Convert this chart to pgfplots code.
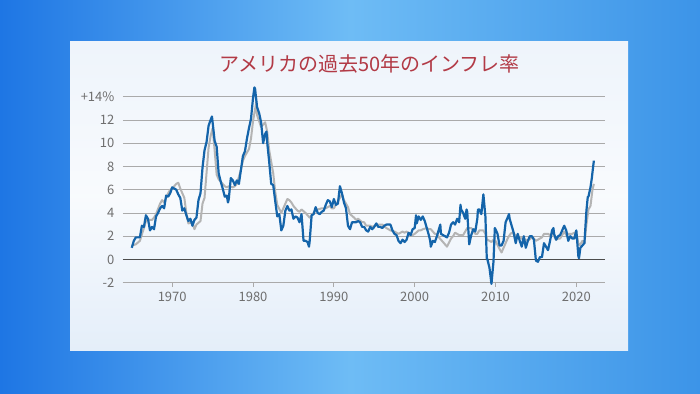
\documentclass[border=0pt]{standalone}
\usepackage{pgfplots}
\pgfplotsset{compat=1.18}
\usepackage{fontspec}
\setmainfont{Noto Sans CJK JP}
\definecolor{bgL}{RGB}{30,118,228}
\definecolor{bgM}{RGB}{110,188,245}
\definecolor{bgR}{RGB}{60,148,232}
\definecolor{panelT}{RGB}{238,244,251}
\definecolor{panelB}{RGB}{228,238,249}
\definecolor{titlered}{RGB}{178,58,70}
\definecolor{cpiblue}{RGB}{20,100,170}
\definecolor{coregray}{RGB}{180,180,180}
\definecolor{gridgray}{RGB}{170,170,170}
\definecolor{ticklab}{RGB}{110,110,110}

\pgfplotstableread{
x y
1965.0 1.0
1965.25 1.6
1965.5 1.9
1965.75 1.9
1966.0 1.9
1966.25 2.9
1966.5 2.8
1966.75 3.8
1967.0 3.5
1967.25 2.5
1967.5 2.8
1967.75 2.6
1968.0 3.7
1968.25 4.0
1968.5 4.4
1968.75 4.6
1969.0 4.4
1969.25 5.5
1969.5 5.4
1969.75 5.7
1970.0 6.2
1970.25 6.1
1970.5 6.0
1970.75 5.6
1971.0 5.3
1971.25 4.2
1971.5 4.4
1971.75 3.8
1972.0 3.3
1972.25 3.5
1972.5 2.9
1972.75 3.4
1973.0 3.6
1973.25 5.1
1973.5 5.7
1973.75 7.9
1974.0 9.4
1974.25 10.1
1974.5 11.5
1974.75 12.0
1974.92 12.3
1975.0 11.8
1975.25 10.2
1975.5 9.7
1975.75 7.4
1976.0 6.7
1976.25 6.1
1976.5 5.4
1976.75 5.5
1976.9 4.9
1977.0 5.2
1977.25 7.0
1977.5 6.8
1977.75 6.4
1978.0 6.8
1978.25 6.5
1978.5 7.7
1978.75 8.9
1979.0 9.3
1979.25 10.4
1979.5 11.3
1979.75 12.1
1980.0 13.9
1980.17 14.8
1980.25 14.7
1980.5 13.1
1980.75 12.6
1981.0 11.8
1981.25 10.0
1981.5 10.8
1981.67 11.0
1981.75 10.1
1982.0 8.4
1982.25 6.5
1982.5 6.4
1982.75 5.0
1983.0 3.7
1983.25 3.9
1983.5 2.5
1983.75 2.9
1984.0 4.2
1984.25 4.6
1984.5 4.2
1984.75 4.3
1985.0 3.5
1985.25 3.7
1985.5 3.6
1985.75 3.2
1986.0 3.9
1986.25 1.6
1986.5 1.6
1986.75 1.5
1986.92 1.1
1987.0 1.5
1987.25 3.8
1987.5 3.9
1987.75 4.5
1988.0 4.0
1988.25 3.9
1988.5 4.1
1988.75 4.2
1989.0 4.7
1989.25 5.1
1989.5 5.0
1989.75 4.5
1990.0 5.2
1990.25 4.7
1990.5 4.8
1990.75 6.3
1991.0 5.7
1991.25 4.9
1991.5 4.4
1991.75 2.9
1992.0 2.6
1992.25 3.2
1992.5 3.2
1992.75 3.2
1993.0 3.3
1993.25 3.2
1993.5 2.8
1993.75 2.8
1994.0 2.5
1994.25 2.4
1994.5 2.8
1994.75 2.6
1995.0 2.8
1995.25 3.1
1995.5 2.8
1995.75 2.8
1996.0 2.7
1996.25 2.9
1996.5 3.0
1996.75 3.0
1997.0 3.0
1997.25 2.5
1997.5 2.2
1997.75 2.1
1998.0 1.6
1998.25 1.4
1998.5 1.7
1998.75 1.5
1999.0 1.7
1999.25 2.3
1999.5 2.1
1999.75 2.6
2000.0 2.7
2000.17 3.8
2000.25 3.1
2000.5 3.7
2000.75 3.4
2001.0 3.7
2001.25 3.3
2001.5 2.7
2001.75 2.1
2001.92 1.6
2002.0 1.1
2002.25 1.6
2002.5 1.5
2002.75 2.0
2003.0 2.6
2003.17 3.0
2003.25 2.2
2003.5 2.1
2003.75 2.0
2004.0 1.9
2004.25 2.3
2004.5 3.0
2004.75 3.2
2005.0 3.0
2005.25 3.5
2005.5 3.2
2005.67 4.7
2005.75 4.3
2006.0 4.0
2006.25 3.5
2006.42 4.3
2006.5 4.1
2006.75 1.3
2007.0 2.1
2007.25 2.6
2007.5 2.4
2007.75 3.5
2007.83 4.3
2008.0 4.3
2008.25 3.9
2008.5 5.6
2008.75 3.7
2008.92 0.1
2009.0 0.0
2009.25 -0.7
2009.5 -2.1
2009.75 -0.2
2009.92 2.7
2010.0 2.6
2010.25 2.2
2010.5 1.2
2010.75 1.2
2011.0 1.6
2011.25 3.2
2011.5 3.6
2011.67 3.9
2011.75 3.5
2012.0 2.9
2012.25 2.3
2012.5 1.4
2012.75 2.2
2013.0 1.6
2013.25 1.1
2013.5 2.0
2013.75 1.0
2014.0 1.6
2014.25 2.0
2014.5 2.0
2014.75 1.7
2015.0 -0.1
2015.25 -0.2
2015.5 0.2
2015.75 0.2
2016.0 1.4
2016.25 1.1
2016.5 0.8
2016.75 1.6
2017.0 2.5
2017.17 2.7
2017.25 2.2
2017.5 1.7
2017.75 2.0
2018.0 2.1
2018.25 2.5
2018.5 2.9
2018.75 2.5
2019.0 1.6
2019.25 2.0
2019.5 1.8
2019.75 1.8
2020.0 2.5
2020.25 0.3
2020.33 0.1
2020.5 1.0
2020.75 1.2
2021.0 1.4
2021.25 4.2
2021.42 5.4
2021.5 5.4
2021.75 6.2
2021.92 7.0
2022.0 7.5
2022.17 8.5
}\cpi

\pgfplotstableread{
x y
1965.0 1.2
1965.5 1.3
1966.0 1.6
1966.5 2.7
1966.75 3.3
1967.0 3.4
1967.5 3.4
1967.75 3.6
1968.0 3.9
1968.5 4.8
1968.75 5.1
1969.0 4.9
1969.5 5.7
1969.75 6.0
1970.0 6.1
1970.5 6.5
1970.75 6.6
1971.0 6.1
1971.5 5.3
1971.75 4.0
1972.0 3.1
1972.5 3.2
1972.75 2.6
1973.0 3.0
1973.5 3.3
1973.75 4.8
1974.0 5.3
1974.5 9.6
1974.75 10.6
1975.0 11.3
1975.25 9.4
1975.5 7.3
1975.75 6.9
1976.0 6.7
1976.5 6.3
1976.75 6.2
1977.0 6.3
1977.5 6.2
1977.75 6.3
1978.0 6.5
1978.5 7.7
1978.75 8.5
1979.0 8.9
1979.5 9.5
1979.75 10.4
1980.0 11.9
1980.42 13.6
1980.5 12.4
1980.75 11.9
1981.0 11.4
1981.5 11.8
1981.75 11.0
1982.0 9.4
1982.5 7.4
1982.75 5.8
1983.0 4.7
1983.5 4.0
1983.75 4.4
1984.0 4.8
1984.25 5.2
1984.5 5.1
1984.75 4.9
1985.0 4.6
1985.5 4.2
1985.75 4.1
1986.0 4.3
1986.5 4.0
1986.75 3.8
1987.0 3.6
1987.5 4.0
1987.75 4.3
1988.0 4.3
1988.5 4.4
1988.75 4.4
1989.0 4.4
1989.5 4.6
1989.75 4.4
1990.0 4.4
1990.5 5.0
1990.75 5.3
1991.0 5.6
1991.25 5.1
1991.5 4.8
1991.75 4.5
1992.0 3.9
1992.5 3.6
1992.75 3.4
1993.0 3.5
1993.5 3.2
1993.75 3.2
1994.0 2.9
1994.5 2.9
1994.75 2.8
1995.0 2.9
1995.5 3.0
1995.75 3.0
1996.0 3.0
1996.5 2.7
1996.75 2.6
1997.0 2.5
1997.5 2.4
1997.75 2.3
1998.0 2.2
1998.5 2.4
1998.75 2.3
1999.0 2.4
1999.5 2.1
1999.75 2.1
2000.0 2.2
2000.5 2.5
2000.75 2.5
2001.0 2.6
2001.5 2.7
2001.75 2.6
2002.0 2.6
2002.5 2.2
2002.75 2.2
2003.0 1.9
2003.5 1.5
2003.75 1.3
2004.0 1.1
2004.5 1.8
2004.75 2.0
2005.0 2.3
2005.5 2.1
2005.75 2.1
2006.0 2.1
2006.5 2.7
2006.75 2.7
2007.0 2.7
2007.5 2.2
2007.75 2.2
2008.0 2.5
2008.5 2.5
2008.75 2.2
2009.0 1.7
2009.5 1.5
2009.75 1.7
2010.0 1.6
2010.5 0.9
2010.75 0.6
2011.0 1.0
2011.5 1.8
2011.75 2.1
2012.0 2.3
2012.5 2.1
2012.75 2.0
2013.0 1.9
2013.5 1.7
2013.75 1.7
2014.0 1.6
2014.5 1.9
2014.75 1.8
2015.0 1.6
2015.5 1.8
2015.75 1.9
2016.0 2.2
2016.5 2.2
2016.75 2.1
2017.0 2.3
2017.5 1.7
2017.75 1.8
2018.0 1.8
2018.5 2.4
2018.75 2.1
2019.0 2.2
2019.5 2.2
2019.75 2.3
2020.0 2.3
2020.25 1.4
2020.42 1.2
2020.75 1.6
2021.0 1.4
2021.25 3.0
2021.5 4.3
2021.75 4.6
2022.0 6.0
2022.17 6.5
}\core

\begin{document}
\begin{tikzpicture}
% background
\shade[left color=bgL, right color=bgR, middle color=bgM] (0pt,0pt) rectangle (700pt,393pt);
\shade[top color=panelT, bottom color=panelB, middle color=white!60!panelT] (70pt,43pt) rectangle (628pt,351pt);
\node[text=titlered, font=\fontsize{20}{24}\selectfont] at (369.5pt,329pt) {アメリカの過去50年のインフレ率};
\begin{axis}[
  at={(122.9pt,110.3pt)}, anchor=south west,
  scale only axis, width=481.7pt, height=186pt,
  xmin=1963.9, xmax=2023.5, ymin=-2, ymax=14,
  axis lines*=left,
  x axis line style={draw=gridgray, line width=0.8pt, -},
  y axis line style={draw=none},
  xtick={1970,1980,...,2020},
  xticklabels={1970,1980,1990,2000,2010,2020},
  ytick={-2,0,...,14},
  yticklabels={-2,0,2,4,6,8,10,12,+14\%},
  ymajorgrids, xmajorgrids=false,
  y grid style={gridgray, line width=0.8pt},
  major tick length=4pt, tick align=outside,
  xtick style={gridgray, line width=0.8pt},
  ytick style={draw=none},
  /pgf/number format/assume math mode=true,
  tick label style={text=ticklab, font=\fontsize{13}{15}\selectfont},
  xticklabel style={yshift=-2pt},
  yticklabel style={xshift=-1pt},
  clip=false,
]
\addplot[black!70, line width=1.4pt, no marks] coordinates {(1963.9,0) (2023.5,0)};
\addplot[coregray, line width=2pt, no marks, line join=round] table[x=x,y=y] {\core};
\addplot[cpiblue, line width=2.2pt, no marks, line join=round] table[x=x,y=y] {\cpi};
\end{axis}
\end{tikzpicture}
\end{document}
